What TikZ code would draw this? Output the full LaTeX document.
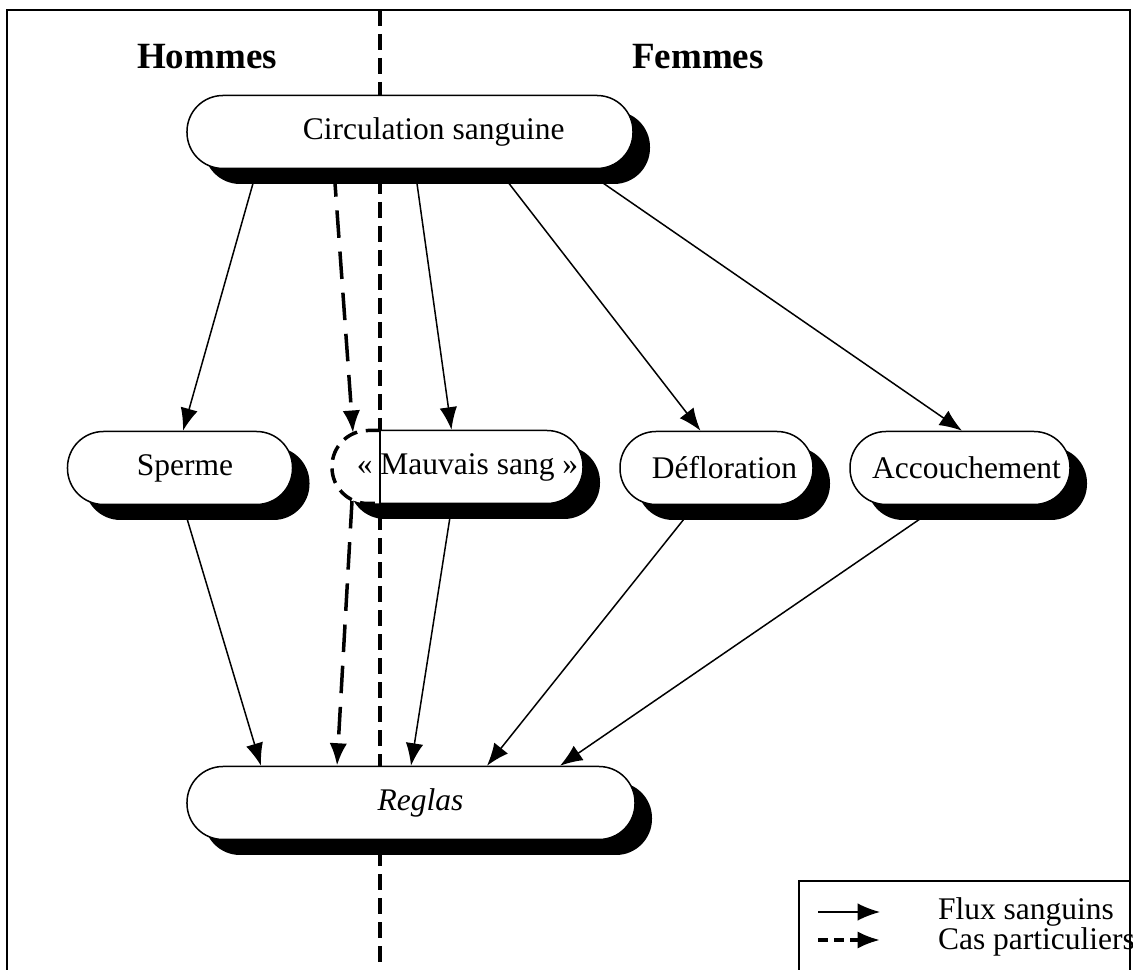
\documentclass[tikz,border=0pt]{standalone}
\usepackage{fontspec}
\setmainfont{Liberation Serif}
\usetikzlibrary{arrows.meta, calc, shadows}

\begin{document}
\begin{tikzpicture}[x=0.4pt, y=-0.4pt, line width=0.6pt,
    txt/.style={font=\fontsize{12.6}{15}\selectfont},
    rim/.style={draw, rectangle, rounded corners=14.4pt, minimum height=29.2pt, inner sep=0pt},
    box/.style={rim, txt, fill=white,
        drop shadow={shadow xshift=6.8pt, shadow yshift=-6.2pt, fill=black, opacity=1}},
    flux/.style={-{Latex[length=9pt, width=7pt]}},
    cas/.style={flux, line width=1.4pt, dash pattern=on 11pt off 5.5pt},
    side/.style={font=\fontsize{14.8}{17}\selectfont\bfseries}]
  \useasboundingbox (0,0) rectangle (1133,970);
  % cadre
  \draw[line width=0.8pt] (7,970) -- (7,10) -- (1130,10) -- (1130,970);
  \coordinate (divtop) at (380,10);
  \coordinate (divbot) at (380,970);
  \draw[line width=1.4pt, dash pattern=on 6.4pt off 3.2pt] (divtop) -- (divbot);
  \node[side] (hommes) at (207,57) {Hommes};
  \node[side] (femmes) at (698,57) {Femmes};

  % noeuds
  \node[box, minimum width=178.4pt] (circ) at (410,132) {\hspace*{19pt}Circulation sanguine};
  \node[box, minimum width=90pt] (sperme) at (180,468) {\hspace*{4pt}Sperme};
  \node[box, draw=none, minimum width=100.4pt] (mauvais) at (457.5,467) {\hspace*{8pt}« Mauvais sang »};
  \begin{scope}
    \clip (0,400) rectangle (380,540);
    \node[rim, line width=1.4pt, dash pattern=on 6pt off 3.5pt, minimum width=100.4pt] at (mauvais) {};
  \end{scope}
  \begin{scope}
    \clip (380,400) rectangle (1133,540);
    \node[rim, minimum width=100.4pt] at (mauvais) {};
  \end{scope}
  \draw (mauvais.north -| divtop) -- (mauvais.south -| divtop);
  \node[box, minimum width=77.2pt] (deflo) at (716.5,468) {\hspace*{6.4pt}Défloration};
  \node[box, minimum width=88pt] (accou) at (960,468) {\hspace*{5.2pt}Accouchement};
  \node[box, minimum width=179.2pt] (reglas) at (411,803) {\hspace*{7.6pt}\itshape Reglas};

  % fleches
  \draw[flux] ($(circ.south)+(-153,0)$) -- ($(sperme.north)+(3,0)$);
  \draw[flux] ($(circ.south)+(5,0)$) -- ($(mauvais.north)+(-6,0)$);
  \draw[flux] ($(circ.south)+(88,0)$) -- ($(deflo.north)+(-16,0)$);
  \draw[flux] ($(circ.south)+(173,0)$) -- ($(accou.north)+(2,0)$);
  \draw[cas] ($(circ.south)+(-76,0)$) -- ($(mauvais)+(-104.5,-34)$);
  \draw[cas] ($(mauvais)+(-105.5,34)$) -- ($(reglas.north)+(-74,0)$);
  \draw[flux] ($(sperme.south)+(3,0)$) -- ($(reglas.north)+(-150,0)$);
  \draw[flux] ($(mauvais.south)+(-5.5,0)$) -- (reglas.north);
  \draw[flux] ($(deflo.south)+(-21.5,0)$) -- ($(reglas.north)+(76,0)$);
  \draw[flux] ($(accou.south)+(-20,0)$) -- ($(reglas.north)+(149,0)$);

  % legende
  \draw[line width=0.8pt] (799,970) -- (799,881) -- (1130,881);
  \coordinate (f1) at (818,912);
  \coordinate (f2) at (880,912);
  \coordinate (c1) at (818,940);
  \coordinate (c2) at (880,940);
  \draw[flux] (f1) -- (f2);
  \draw[cas, dash pattern=on 4pt off 2.4pt] (c1) -- (c2);
  \node[txt, anchor=west] (fluxtxt) at (929,912) {Flux sanguins};
  \node[txt, anchor=west] (castxt) at (929,942) {Cas particuliers};
\end{tikzpicture}
\end{document}
